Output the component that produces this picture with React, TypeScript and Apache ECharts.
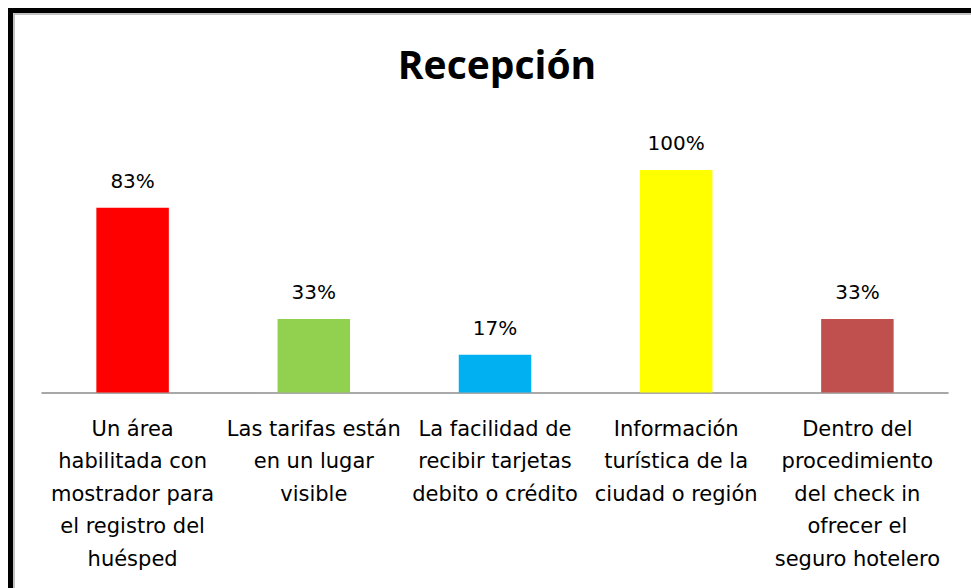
import React, { useEffect, useRef } from "react";
import * as echarts from "echarts";

const title = "Recepción";
const categories = [
  "Un área\nhabilitada con\nmostrador para\nel registro del\nhuésped",
  "Las tarifas están\nen un lugar\nvisible",
  "La facilidad de\nrecibir tarjetas\ndebito o crédito",
  "Información\nturística de la\nciudad o región",
  "Dentro del\nprocedimiento\ndel check in\nofrecer el\nseguro hotelero",
];
const values = [83, 33, 17, 100, 33];
const barColors = ["#FF0000", "#92D050", "#00B0F0", "#FFFF00", "#C0504D"];

export default function App() {
  const ref = useRef<HTMLDivElement>(null);
  useEffect(() => {
    if (!ref.current) return;
    const chart = echarts.init(ref.current, undefined, { renderer: "svg" });
    chart.setOption({
      animation: false,
      backgroundColor: "#ffffff",
      title: {
        text: title,
        left: 492,
        textAlign: "center",
        top: 39,
        textStyle: {
          fontFamily: "Open Sans",
          fontWeight: "bold",
          fontSize: 39,
          color: "#000",
        },
      },
      grid: { left: 42, right: 23, top: 170, bottom: 195.5 },
      xAxis: {
        type: "category",
        data: categories,
        axisLine: { lineStyle: { color: "#8c8c8c", width: 1.5 } },
        axisTick: { show: false },
        axisLabel: {
          interval: 0,
          margin: 20,
          fontFamily: "DejaVu Sans",
          fontSize: 21,
          lineHeight: 32.5,
          color: "#000",
        },
      },
      yAxis: {
        type: "value",
        min: 0,
        max: 100,
        show: false,
        splitLine: { show: false },
      },
      series: [
        {
          type: "bar",
          barWidth: "40%",
          data: values.map((v, i) => ({ value: v, itemStyle: { color: barColors[i] } })),
          label: {
            show: true,
            position: "top",
            distance: 17,
            formatter: (p: any) => p.value + "%",
            fontFamily: "DejaVu Sans",
            fontSize: 20,
            lineHeight: 20,
            color: "#000",
          },
        },
      ],
      graphic: [
        {
          type: "rect",
          shape: { x: 10.5, y: 10.5, width: 1200, height: 1200 },
          style: { fill: "none", stroke: "#000", lineWidth: 5 },
          silent: true,
        },
        {
          type: "rect",
          shape: { x: 14, y: 14, width: 1200, height: 1200 },
          style: { fill: "none", stroke: "#b0b0b0", lineWidth: 1.5 },
          silent: true,
        },
      ],
    });
    return () => chart.dispose();
  }, []);
  return (
    <div
      ref={ref}
      style={{ position: "fixed", left: 0, top: 0, width: 971, height: 588 }}
    />
  );
}
